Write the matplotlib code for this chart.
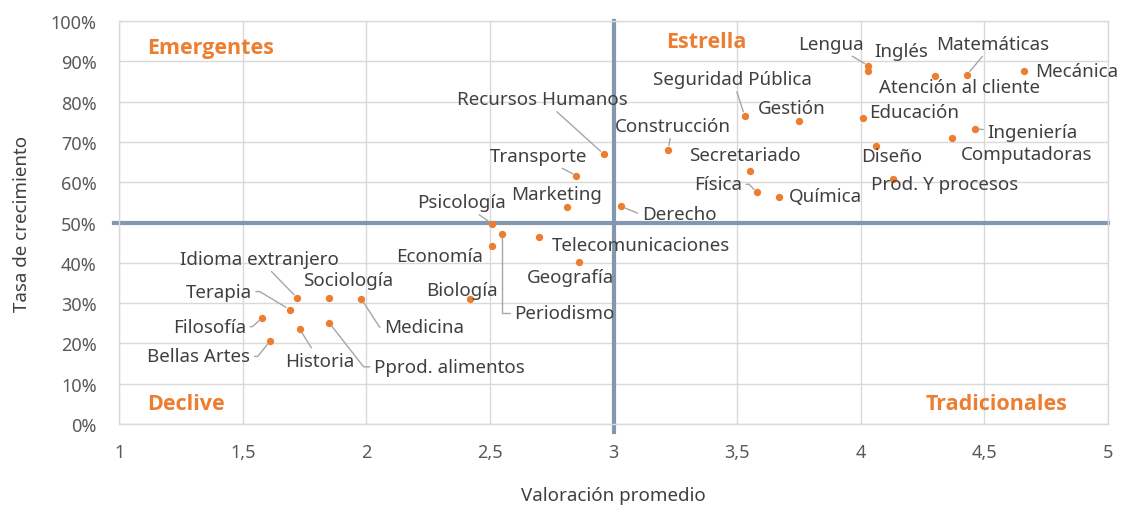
import matplotlib.pyplot as plt
from matplotlib.ticker import FuncFormatter, MultipleLocator

plt.rcParams['font.family'] = ['Noto Sans', 'DejaVu Sans']

# Data
carreras = ['Lengua', 'Inglés', 'Atención al cliente', 'Matemáticas', 'Mecánica',
            'Seguridad Pública', 'Gestión', 'Educación', 'Ingeniería', 'Computadoras',
            'Diseño', 'Prod. Y procesos', 'Química', 'Física', 'Secretariado',
            'Construcción', 'Derecho', 'Recursos Humanos', 'Transporte', 'Marketing',
            'Psicología', 'Periodismo', 'Economía', 'Telecomunicaciones', 'Geografía',
            'Biología', 'Idioma extranjero', 'Sociología', 'Medicina', 'Terapia',
            'Filosofía', 'Historia', 'Pprod. alimentos', 'Bellas Artes']
valoracion = [4.03, 4.03, 4.30, 4.43, 4.66,
              3.53, 3.75, 4.01, 4.46, 4.37,
              4.06, 4.13, 3.67, 3.58, 3.55,
              3.22, 3.03, 2.96, 2.85, 2.81,
              2.51, 2.55, 2.51, 2.70, 2.86,
              2.42, 1.72, 1.85, 1.98, 1.69,
              1.58, 1.73, 1.85, 1.61]
crecimiento = [0.889, 0.877, 0.864, 0.867, 0.877,
               0.765, 0.752, 0.760, 0.732, 0.709,
               0.689, 0.607, 0.563, 0.575, 0.627,
               0.681, 0.540, 0.670, 0.616, 0.538,
               0.496, 0.471, 0.442, 0.463, 0.402,
               0.309, 0.313, 0.312, 0.310, 0.284,
               0.264, 0.236, 0.251, 0.205]

x_mid, y_mid = 3, 0.5
cuadrantes = ['Emergentes', 'Estrella', 'Declive', 'Tradicionales']

# label placement: offset in pixels (dx, dy), leader line style
layout = {
    'Lengua': (-37, 22, 'line'),
    'Inglés': (33, 20, None),
    'Atención al cliente': (24, -11, None),
    'Matemáticas': (26, 31, 'line'),
    'Mecánica': (53, 0, None),
    'Seguridad Pública': (-12, 37, 'line'),
    'Gestión': (-7, 13, None),
    'Educación': (51, 6, None),
    'Ingeniería': (58, -3, 'line'),
    'Computadoras': (74, -16, None),
    'Diseño': (16, -10, None),
    'Prod. Y procesos': (52, -5, None),
    'Química': (46, 1, None),
    'Física': (-39, 8, 'angle,angleA=0,angleB=135,rad=0'),
    'Secretariado': (-5, 16, None),
    'Construcción': (5, 24, 'line'),
    'Derecho': (58, -8, 'angle,angleA=0,angleB=-22,rad=0'),
    'Recursos Humanos': (-61, 55, 'line'),
    'Transporte': (-38, 20, 'line'),
    'Marketing': (-10, 13, None),
    'Psicología': (-31, 22, 'line'),
    'Periodismo': (62, -79, 'angle,angleA=0,angleB=90,rad=0'),
    'Economía': (-53, -10, None),
    'Telecomunicaciones': (102, -8, None),
    'Geografía': (-8, -15, None),
    'Biología': (-8, 9, None),
    'Idioma extranjero': (-38, 39, 'line'),
    'Sociología': (19, 18, None),
    'Medicina': (63, -28, 'angle,angleA=0,angleB=-57,rad=0'),
    'Terapia': (-71, 18, 'angle,angleA=0,angleB=149,rad=0'),
    'Filosofía': (-53, -9, 'angle,angleA=0,angleB=-138,rad=0'),
    'Historia': (20, -32, 'line'),
    'Pprod. alimentos': (120, -44, 'angle,angleA=0,angleB=-52,rad=0'),
    'Bellas Artes': (-71, -15, 'angle,angleA=0,angleB=-129,rad=0'),
}

orange = '#ED7D31'
gray_txt = '#595959'
label_txt = '#404040'

fig = plt.figure(figsize=(11.22, 5.06), dpi=100)
ax = fig.add_axes([0.1061, 0.1601, 0.8815, 0.7964])

ax.set_xlim(1, 5)
ax.set_ylim(0, 1)
ax.xaxis.set_major_locator(MultipleLocator(0.5))
ax.yaxis.set_major_locator(MultipleLocator(0.1))
ax.xaxis.set_major_formatter(FuncFormatter(lambda v, p: f'{v:g}'.replace('.', ',')))
ax.yaxis.set_major_formatter(FuncFormatter(lambda v, p: f'{v * 100:.0f}%'))
ax.grid(True, color='#d9d9d9', linewidth=1)
ax.set_axisbelow(True)
for s in ax.spines.values():
    s.set_color('#d9d9d9')
    s.set_linewidth(1)
ax.tick_params(length=0, labelsize=13, colors=gray_txt)
ax.tick_params(axis='y', pad=16)
ax.tick_params(axis='x', pad=14)

ax.set_xlabel('Valoración promedio', fontsize=13.5, color=label_txt, labelpad=18)
ax.set_ylabel('Tasa de crecimiento', fontsize=13.5, color=label_txt, labelpad=14)

# quadrant separators
ax.axvline(x_mid, ymin=-0.02, ymax=1.0, color='#8497b0', linewidth=3, clip_on=False, zorder=2)
ax.axhline(y_mid, xmin=-0.005, xmax=1.0, color='#8497b0', linewidth=3, clip_on=False, zorder=2)

ax.scatter(valoracion, crecimiento, s=28, color=orange, zorder=4, linewidths=0)

for name, x, y in zip(carreras, valoracion, crecimiento):
    dx, dy, conn = layout[name]
    arrow = None
    if conn == 'line':
        arrow = dict(arrowstyle='-', color='#a6a6a6', lw=1, shrinkA=1, shrinkB=3)
    elif conn:
        arrow = dict(arrowstyle='-', color='#a6a6a6', lw=1, shrinkA=1, shrinkB=3,
                     connectionstyle=conn)
    ax.annotate(name, (x, y), xytext=(dx, dy), textcoords='offset pixels',
                ha='center', va='center', fontsize=13.5, color=label_txt,
                arrowprops=arrow, zorder=5, annotation_clip=False)

qstyle = dict(transform=ax.transAxes, color=orange, fontsize=15.5, fontweight='bold',
              family=['Open Sans', 'DejaVu Sans'], va='center')
ax.text(0.028, 0.935, cuadrantes[0], ha='left', **qstyle)
ax.text(0.553, 0.948, cuadrantes[1], ha='left', **qstyle)
ax.text(0.028, 0.052, cuadrantes[2], ha='left', **qstyle)
ax.text(0.959, 0.052, cuadrantes[3], ha='right', **qstyle)

fig.savefig('out.png', dpi=100)
